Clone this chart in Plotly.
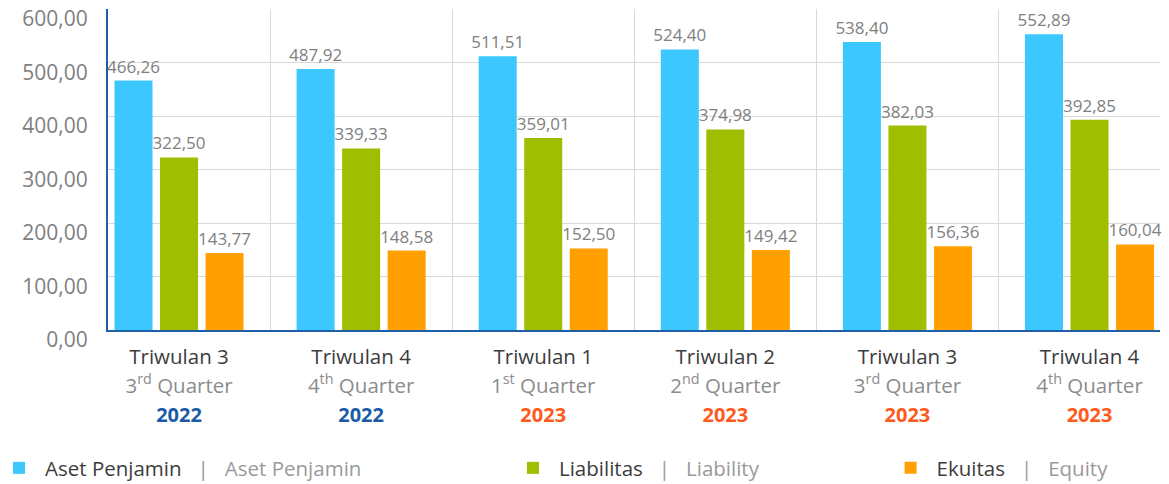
import plotly.graph_objects as go

quarters_id = ["Triwulan 3", "Triwulan 4", "Triwulan 1", "Triwulan 2", "Triwulan 3", "Triwulan 4"]
quarters_num = ["3", "4", "1", "2", "3", "4"]
quarters_sup = ["rd", "th", "st", "nd", "rd", "th"]
years = ["2022", "2022", "2023", "2023", "2023", "2023"]

aset = [466.26, 487.92, 511.51, 524.40, 538.40, 552.89]
liabilitas = [322.50, 339.33, 359.01, 374.98, 382.03, 392.85]
ekuitas = [143.77, 148.58, 152.50, 149.42, 156.36, 160.04]

y_ticks = [0, 100, 200, 300, 400, 500, 600]

C_BLUE = "#3CC8FF"
C_GREEN = "#A0BE00"
C_ORANGE = "#FFA000"
C_AXIS = "#1F5FA8"
YEAR_COL = {"2022": "#1A5AA6", "2023": "#FF5A1E"}
FONT = "Open Sans"


def fmt(v):
    return f"{v:.2f}".replace(".", ",")


cats = [f"q{i}" for i in range(len(aset))]
ticktext = []
for qi, qn, qs, yr in zip(quarters_id, quarters_num, quarters_sup, years):
    ticktext.append(
        f"<span style='color:#3C3C3C;font-size:20.5px'>{qi}</span><br>"
        f"<span style='color:#8C8C8C;font-size:20.5px'>{qn}<sup>{qs}</sup> Quarter</span><br>"
        f"<span style='color:{YEAR_COL[yr]};font-size:20px'><b>{yr}</b></span>"
    )

fig = go.Figure()
series = [
    (aset, C_BLUE, "Aset Penjamin", "Aset Penjamin", "legend"),
    (liabilitas, C_GREEN, "Liabilitas", "Liability", "legend2"),
    (ekuitas, C_ORANGE, "Ekuitas", "Equity", "legend3"),
]
for vals, col, n_id, n_en, lg in series:
    fig.add_trace(go.Bar(
        x=cats, y=vals,
        marker=dict(color=col, line=dict(width=0)),
        text=[fmt(v) for v in vals],
        textposition="outside",
        constraintext="none",
        textfont=dict(family=FONT, size=17, color="#808080"),
        cliponaxis=False,
        name=f"<span style='color:#3C3C3C'>{n_id}</span>"
             f"<span style='color:#9A9A9A'>   |   {n_en}</span>",
        legend=lg,
        showlegend=True,
        hoverinfo="skip",
    ))

leg_common = dict(orientation="h", xref="container", yref="container",
                  yanchor="middle", itemwidth=42,
                  font=dict(family=FONT, size=20.5),
                  bgcolor="rgba(0,0,0,0)")
fig.update_layout(
    width=1169, height=484,
    margin=dict(l=108, r=9, t=9, b=154, autoexpand=False),
    paper_bgcolor="white", plot_bgcolor="white",
    showlegend=True,
    barmode="group", bargap=0.25, bargroupgap=0.165,
    font=dict(family=FONT),
    legend=dict(x=0.0, y=0.033, indentation=-7, **leg_common),
    legend2=dict(x=0.4337, y=0.033, **leg_common),
    legend3=dict(x=0.7567, y=0.033, **leg_common),
    xaxis=dict(
        type="category", range=[-0.39, 5.387], automargin=False,
        tickmode="array", tickvals=cats, ticktext=ticktext,
        tickson="boundaries", ticks="", ticklen=0, ticklabelstandoff=6,
        showgrid=True, gridcolor="#D9D9D9", gridwidth=1,
        showline=True, linecolor=C_AXIS, linewidth=2,
        tickfont=dict(family=FONT, size=22),
    ),
    yaxis=dict(
        range=[0, 600], tickvals=y_ticks, automargin=False,
        ticktext=[fmt(v) for v in y_ticks],
        showgrid=True, gridcolor="#D9D9D9", gridwidth=1,
        showline=True, linecolor=C_AXIS, linewidth=2,
        zeroline=False, ticks="", ticklabelstandoff=14,
        ticklabelshift=10, ticklabeloverflow="allow",
        tickfont=dict(family=FONT, size=21, color="#808080"),
    ),
)

fig.write_html("out.html", config={"displayModeBar": False},
               post_script="document.body.style.margin='0';document.body.style.overflow='hidden';")
